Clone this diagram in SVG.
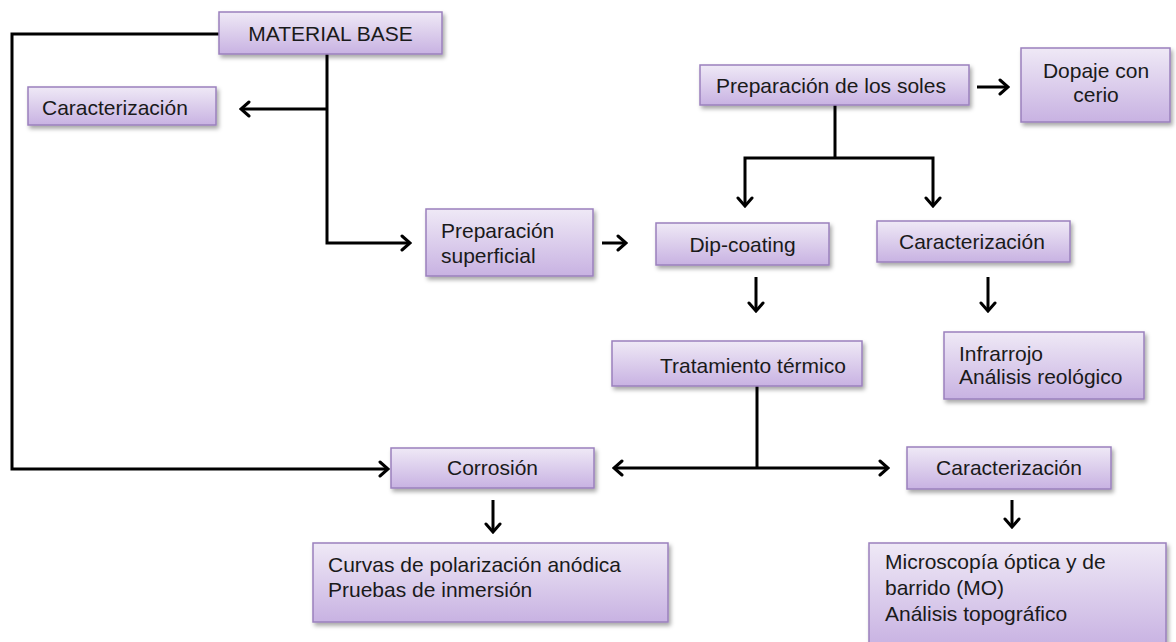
<svg xmlns="http://www.w3.org/2000/svg" width="1176" height="642" viewBox="0 0 1176 642">
<defs>
<linearGradient id="g" x1="0" y1="0" x2="0" y2="1">
<stop offset="0" stop-color="#efe9f6"/>
<stop offset="1" stop-color="#c8b2e2"/>
</linearGradient>
<filter id="sh" x="-10%" y="-20%" width="120%" height="150%">
<feDropShadow dx="2" dy="3" stdDeviation="2" flood-color="#000" flood-opacity="0.35"/>
</filter>
<marker id="ah" viewBox="-11 -9 13 18" refX="0" refY="0" markerWidth="13" markerHeight="18" markerUnits="userSpaceOnUse" orient="auto">
<path d="M-8,-7 L0,0 L-8,7" fill="none" stroke="#000" stroke-width="3" stroke-linejoin="miter" stroke-linecap="round"/>
</marker>
</defs>
<style>
.box{fill:url(#g);stroke:#9a80bd;stroke-width:1.5;filter:url(#sh)}
.t{font-family:"Liberation Sans",Arial,sans-serif;font-size:21px;fill:#1a1a1a}
.c{text-anchor:middle}
.ln{fill:none;stroke:#000;stroke-width:3;stroke-linejoin:miter}
.ar{fill:none;stroke:#000;stroke-width:3;marker-end:url(#ah)}
</style>
<rect width="1176" height="642" fill="#fff"/>
<g id="connectors">
<path class="ar" d="M219,34 H12 V469 H388"/>
<path class="ar" d="M327,54 V243 H410"/>
<path class="ar" d="M327,109 H241"/>
<path class="ar" d="M602,243 H626"/>
<path class="ar" d="M977,87 H1008"/>
<path class="ln" d="M835,105 V158"/>
<path class="ar" d="M835,158 H745 V206"/>
<path class="ar" d="M835,158 H933 V206"/>
<path class="ar" d="M756,277 V311"/>
<path class="ar" d="M988,277 V311"/>
<path class="ln" d="M757,386 V468"/>
<path class="ar" d="M757,468 H614"/>
<path class="ar" d="M757,468 H888"/>
<path class="ar" d="M493,500 V532"/>
<path class="ar" d="M1012,500 V527"/>
</g>
<g id="material-base">
<rect class="box" x="219" y="12" width="223" height="42"/>
<text class="t c" x="330.5" y="41">MATERIAL BASE</text>
</g>
<g id="caracterizacion-1">
<rect class="box" x="28" y="87" width="188" height="38"/>
<text class="t" x="42" y="115">Caracterización</text>
</g>
<g id="preparacion-soles">
<rect class="box" x="700" y="65" width="269" height="40"/>
<text class="t" x="716" y="93">Preparación de los soles</text>
</g>
<g id="dopaje">
<rect class="box" x="1021" y="48" width="149" height="74"/>
<text class="t c" x="1096" y="78">Dopaje con</text>
<text class="t c" x="1096" y="102">cerio</text>
</g>
<g id="preparacion-superficial">
<rect class="box" x="426" y="209" width="167" height="67"/>
<text class="t" x="441" y="238">Preparación</text>
<text class="t" x="441" y="263">superficial</text>
</g>
<g id="dip-coating">
<rect class="box" x="656" y="223" width="173" height="42"/>
<text class="t c" x="742.5" y="252">Dip-coating</text>
</g>
<g id="caracterizacion-2">
<rect class="box" x="877" y="221" width="193" height="41"/>
<text class="t" x="899" y="249">Caracterización</text>
</g>
<g id="infrarrojo">
<rect class="box" x="944" y="332" width="200" height="67"/>
<text class="t" x="959" y="361">Infrarrojo</text>
<text class="t" x="959" y="384">Análisis reológico</text>
</g>
<g id="tratamiento">
<rect class="box" x="612" y="341" width="250" height="45"/>
<text class="t" x="660" y="373">Tratamiento térmico</text>
</g>
<g id="corrosion">
<rect class="box" x="391" y="448" width="203" height="40"/>
<text class="t c" x="492.5" y="475">Corrosión</text>
</g>
<g id="caracterizacion-3">
<rect class="box" x="907" y="447" width="204" height="42"/>
<text class="t c" x="1009" y="475">Caracterización</text>
</g>
<g id="curvas">
<rect class="box" x="313" y="543" width="355" height="79"/>
<text class="t" x="328" y="572">Curvas de polarización anódica</text>
<text class="t" x="328" y="597">Pruebas de inmersión</text>
</g>
<g id="microscopia">
<rect class="box" x="869" y="543" width="297" height="104"/>
<text class="t" x="885" y="569">Microscopía óptica y de</text>
<text class="t" x="885" y="595">barrido (MO)</text>
<text class="t" x="885" y="621">Análisis topográfico</text>
</g>
</svg>
